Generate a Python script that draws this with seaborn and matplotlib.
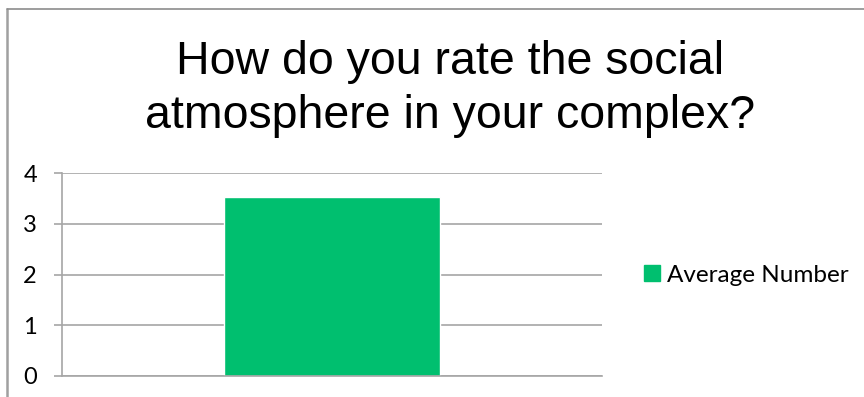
import matplotlib
matplotlib.use("Agg")
import matplotlib.pyplot as plt
from matplotlib.lines import Line2D
import pandas as pd
import seaborn as sns

# data
categories = ["Rating"]
values = [3.53]
series_name = ["Average Number"]
y_ticks = [0, 1, 2, 3, 4]
title = "How do you rate the social\natmosphere in your complex?"

bar_color = "#00BF6F"
grid_color = "#A6A6A6"

df = pd.DataFrame({"category": categories, "value": values, "series": series_name})

sns.set_style("white")
plt.rcParams["font.family"] = ["Lato", "DejaVu Sans"]
plt.rcParams["text.color"] = "black"

fig = plt.figure(figsize=(8.64, 3.97), dpi=100)
ax = fig.add_axes([62 / 864, 1 - 376 / 397, 540 / 864, 203 / 397])

sns.barplot(data=df, x="category", y="value", hue="series", palette=[bar_color],
            width=0.4, saturation=1, ax=ax)

ax.set_xlim(-0.5, 0.5)
ax.set_ylim(0, 4)
ax.set_yticks(y_ticks)
ax.set_yticklabels([str(t) for t in y_ticks], fontsize=17, color="black")
ax.set_xticks([])
ax.set_xlabel("")
ax.set_ylabel("")
ax.yaxis.grid(True, color=grid_color, linewidth=1.2)
ax.set_axisbelow(True)
ax.tick_params(axis="y", direction="out", length=6, width=1.2, color=grid_color, pad=12, left=True)
for s in ["top", "right"]:
    ax.spines[s].set_visible(False)
for s in ["left", "bottom"]:
    ax.spines[s].set_color(grid_color)
    ax.spines[s].set_linewidth(1.2)

ax.legend_.remove()
handles = [plt.Rectangle((0, 0), 1, 1, color=bar_color)]
fig.legend(handles, series_name, loc="center left", bbox_to_anchor=(644 / 864, 1 - 275 / 397),
           frameon=False, fontsize=17.5, handlelength=0.65, handleheight=0.65, handletextpad=0.3,
           borderpad=0, borderaxespad=0, labelcolor="black")

fig.text(0.521, 1 - 89 / 397, title, ha="center", va="center", fontsize=33.5, color="black",
         family=["Liberation Sans", "DejaVu Sans"], linespacing=1.3)

# chart border (left and top edges visible)
fig.add_artist(Line2D([7 / 864, 7 / 864], [0, 1 - 9 / 397], color="#A0A0A0", linewidth=1.8,
                      transform=fig.transFigure))
fig.add_artist(Line2D([7 / 864, 1], [1 - 9 / 397, 1 - 9 / 397], color="#8C8C8C", linewidth=1.2,
                      transform=fig.transFigure))

plt.savefig("out.png", dpi=100)
